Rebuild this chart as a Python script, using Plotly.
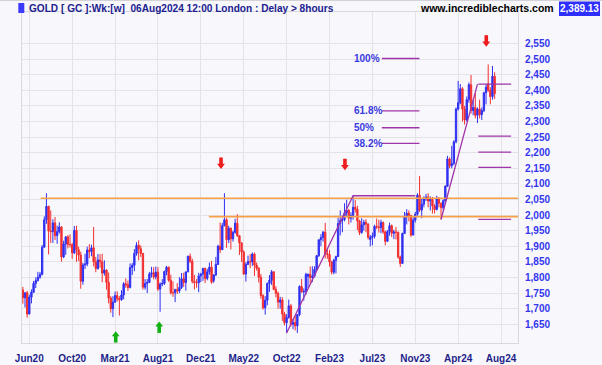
import plotly.graph_objects as go
import pandas as pd

# ---------------- data (weekly OHLC, GC futures) ----------------
start_week = "2020-05-18"

candles_2020 = [
    (1760, 1770, 1716, 1735), (1735, 1752, 1704, 1751), (1751, 1757, 1671, 1683), (1683, 1745, 1682, 1737),
    (1737, 1762, 1717, 1753), (1753, 1789, 1750, 1781), (1781, 1800, 1766, 1790), (1790, 1818, 1787, 1801),
    (1801, 1818, 1796, 1810), (1810, 1904, 1807, 1897), (1897, 1996, 1896, 1985), (1985, 2070, 1972, 2028),
    (2028, 2030, 1874, 1949), (1949, 2015, 1911, 1947), (1947, 1987, 1911, 1975), (1975, 1994, 1920, 1934),
    (1934, 1966, 1908, 1947), (1947, 1977, 1941, 1962), (1962, 1964, 1851, 1866), (1866, 1918, 1862, 1907),
    (1907, 1933, 1873, 1930), (1930, 1936, 1893, 1906), (1906, 1938, 1896, 1905), (1905, 1911, 1860, 1879),
    (1879, 1965, 1875, 1951), (1951, 1966, 1850, 1889), (1889, 1899, 1853, 1872), (1872, 1883, 1764, 1788),
    (1788, 1847, 1777, 1840), (1840, 1876, 1827, 1843), (1843, 1899, 1836, 1888), (1888, 1907, 1862, 1883),
    (1883, 1905, 1868, 1895),
]
candles_2021 = [
    (1895, 1962, 1836, 1850), (1850, 1866, 1817, 1829), (1829, 1875, 1825, 1856), (1856, 1875, 1831, 1850),
    (1850, 1876, 1785, 1814), (1814, 1855, 1806, 1824), (1824, 1826, 1761, 1784), (1784, 1816, 1717, 1734),
    (1734, 1740, 1687, 1700), (1700, 1740, 1673, 1721), (1721, 1755, 1719, 1742), (1742, 1756, 1723, 1732),
    (1732, 1740, 1678, 1729), (1729, 1759, 1725, 1744), (1744, 1785, 1730, 1780), (1780, 1797, 1767, 1777),
    (1777, 1790, 1757, 1768), (1768, 1845, 1765, 1832), (1832, 1846, 1808, 1839), (1839, 1891, 1820, 1877),
    (1877, 1913, 1870, 1903), (1903, 1919, 1855, 1892), (1892, 1903, 1866, 1877), (1877, 1879, 1761, 1769),
    (1769, 1795, 1761, 1781), (1781, 1795, 1750, 1784), (1784, 1818, 1783, 1811), (1811, 1834, 1800, 1815),
    (1815, 1833, 1794, 1802), (1802, 1835, 1794, 1817), (1817, 1833, 1757, 1763), (1763, 1784, 1690, 1779),
    (1779, 1795, 1772, 1781), (1781, 1822, 1776, 1819), (1819, 1837, 1807, 1833), (1833, 1835, 1786, 1791),
    (1791, 1809, 1745, 1751), (1751, 1788, 1738, 1751), (1751, 1764, 1721, 1761), (1761, 1782, 1747, 1757),
    (1757, 1801, 1750, 1768), (1768, 1814, 1763, 1796), (1796, 1815, 1770, 1784), (1784, 1818, 1758, 1818),
    (1818, 1870, 1817, 1868), (1868, 1877, 1846, 1852), (1852, 1860, 1781, 1788), (1788, 1808, 1762, 1784),
    (1784, 1795, 1767, 1783), (1783, 1815, 1753, 1805), (1805, 1815, 1785, 1811), (1811, 1831, 1789, 1829),
]
candles_2022 = [
    (1829, 1832, 1782, 1797), (1797, 1828, 1791, 1818), (1818, 1848, 1809, 1833), (1833, 1853, 1780, 1785),
    (1790, 1810, 1783, 1808), (1808, 1866, 1805, 1842), (1842, 1905, 1840, 1900), (1900, 1976, 1878, 1889),
    (1889, 1975, 1888, 1966), (1966, 2070, 1964, 1985), (1985, 1991, 1895, 1921), (1921, 1966, 1910, 1958),
    (1958, 1960, 1890, 1924), (1924, 1950, 1915, 1945), (1945, 1988, 1940, 1974), (1974, 2003, 1930, 1934),
    (1934, 1935, 1872, 1911), (1911, 1913, 1850, 1882), (1882, 1887, 1808, 1811), (1811, 1849, 1787, 1842),
    (1842, 1870, 1840, 1851), (1851, 1875, 1830, 1850), (1850, 1880, 1837, 1875), (1875, 1880, 1805, 1840),
    (1840, 1848, 1822, 1830), (1830, 1833, 1784, 1801), (1801, 1811, 1732, 1742), (1742, 1746, 1697, 1703),
    (1703, 1740, 1681, 1727), (1727, 1784, 1711, 1781), (1781, 1808, 1754, 1791), (1791, 1824, 1776, 1818),
    (1818, 1820, 1759, 1762), (1762, 1772, 1736, 1749), (1749, 1755, 1700, 1721), (1721, 1738, 1700, 1728),
    (1728, 1737, 1661, 1683), (1683, 1690, 1646, 1655), (1655, 1682, 1622, 1672), (1672, 1729, 1668, 1709),
    (1709, 1715, 1643, 1650), (1650, 1668, 1634, 1656), (1656, 1677, 1630, 1645), (1645, 1682, 1622, 1681),
    (1681, 1775, 1676, 1771), (1771, 1795, 1751, 1754), (1754, 1765, 1726, 1755), (1755, 1815, 1745, 1810),
    (1804, 1813, 1766, 1810), (1810, 1835, 1780, 1800), (1800, 1836, 1785, 1804), (1804, 1836, 1800, 1826),
]
candles_2023 = [
    (1826, 1871, 1822, 1870), (1870, 1922, 1866, 1921), (1921, 1939, 1900, 1928), (1928, 1949, 1915, 1945),
    (1945, 1975, 1861, 1877), (1877, 1890, 1860, 1874), (1874, 1888, 1835, 1850), (1850, 1853, 1810, 1817),
    (1817, 1860, 1810, 1855), (1855, 1870, 1813, 1867), (1867, 1992, 1866, 1973), (1973, 2015, 1935, 1983),
    (1983, 1999, 1945, 1986), (1986, 2038, 1980, 2007), (2007, 2049, 1994, 2015), (2015, 2020, 1970, 1990),
    (1990, 2009, 1976, 1999), (1999, 2062, 1985, 2025), (2025, 2048, 2008, 2019), (2019, 2030, 1952, 1981),
    (1981, 1985, 1936, 1944), (1944, 1990, 1940, 1969), (1969, 1985, 1950, 1977), (1977, 1987, 1945, 1971),
    (1971, 1974, 1922, 1929), (1922, 1936, 1900, 1929), (1929, 1944, 1903, 1932), (1932, 1969, 1925, 1964),
    (1964, 1989, 1955, 1962), (1962, 1985, 1944, 1960), (1960, 1985, 1942, 1976), (1976, 1980, 1940, 1946),
    (1946, 1950, 1903, 1916), (1916, 1952, 1914, 1947), (1947, 1976, 1934, 1966), (1966, 1970, 1930, 1942),
    (1942, 1953, 1923, 1946), (1946, 1962, 1922, 1945), (1945, 1947, 1860, 1866), (1866, 1870, 1834, 1845),
    (1845, 1944, 1845, 1941), (1941, 2010, 1940, 1994), (1994, 2019, 1970, 2006), (2006, 2015, 1980, 1999),
    (1999, 2000, 1930, 1936), (1936, 1993, 1935, 1984), (1984, 2010, 1976, 2003), (2003, 2070, 1998, 2064),
    (2064, 2125, 2010, 2016), (2016, 2052, 1990, 2035), (2035, 2060, 2025, 2052), (2052, 2068, 2045, 2058),
]
candles_2024 = [
    (2058, 2070, 2025, 2045), (2045, 2060, 2015, 2050), (2050, 2058, 2005, 2029), (2029, 2035, 2005, 2018),
    (2018, 2062, 2015, 2053), (2053, 2058, 2025, 2038), (2038, 2040, 1986, 2024), (2024, 2050, 2016, 2046),
    (2046, 2096, 2035, 2092), (2092, 2190, 2090, 2180), (2180, 2185, 2150, 2158), (2158, 2222, 2150, 2165),
    (2165, 2240, 2160, 2235), (2235, 2345, 2230, 2340), (2340, 2430, 2335, 2360), (2360, 2420, 2355, 2405),
    (2405, 2410, 2300, 2340), (2340, 2350, 2290, 2305), (2305, 2380, 2300, 2370), (2370, 2425, 2360, 2418),
    (2418, 2449, 2325, 2335), (2335, 2370, 2320, 2345), (2345, 2390, 2310, 2320), (2320, 2345, 2295, 2340),
    (2340, 2370, 2310, 2322), (2322, 2345, 2305, 2335), (2335, 2395, 2330, 2392), (2392, 2420, 2355, 2410),
    (2421, 2483, 2395, 2400), (2400, 2410, 2355, 2380), (2380, 2478, 2370, 2445), (2445, 2458, 2372, 2389),
]

last_price = "2,389.13"

# x-axis labels
tick_dates = ["2020-06-08", "2020-10-26", "2021-03-15", "2021-08-02", "2021-12-20", "2022-05-09",
              "2022-09-26", "2023-02-13", "2023-07-03", "2023-11-20", "2024-04-08", "2024-08-26"]
tick_labels = ["Jun20", "Oct20", "Mar21", "Aug21", "Dec21", "May22",
               "Oct22", "Feb23", "Jul23", "Nov23", "Apr24", "Aug24"]
price_ticks = list(range(1650, 2551, 50))

# support / resistance lines (orange)
orange_lines = [("2020-07-15", 2054), ("2022-01-15 14:00", 1995)]

# trend lines (purple)
trend1 = (["2022-09-26", "2023-05-01", "2023-11-20"], [1622, 2062, 2062])
trend2 = (["2024-02-12", "2024-06-10"], [1986, 2420])

# Fibonacci levels
fib_left_x = ("2023-08-02 19:00", "2023-12-03 14:00")
fib_left_levels = [2502, 2334, 2280, 2230]
fib_left_labels = ["100%", "61.8%", "50%", "38.2%"]
fib_label_x = "2023-04-27"
fib_right_x = ("2024-06-12 19:00", "2024-09-27 22:00")
fib_right_levels = [2420, 2253, 2202, 2153, 1986]

# signal arrows
down_arrow_x = ["2022-02-23 19:00", "2023-04-04 10:00", "2024-07-08 17:00"]
down_arrow_y = [2164, 2160, 2556]
up_arrow_x = ["2021-03-17 02:00", "2021-08-06 05:00"]
up_arrow_y = [1612, 1643]

# ---------------- build ----------------
rows = candles_2020 + candles_2021 + candles_2022 + candles_2023 + candles_2024
dates = pd.date_range(start_week, periods=len(rows), freq="7D")
o = [r[0] for r in rows]
h = [max(r) for r in rows]
l = [min(r) for r in rows]
c = [r[3] for r in rows]

W, H = 602, 365
ML, MR, MT, MB = 22, 84, 12, 22
PW, PH = W - ML - MR, H - MT - MB
Y0, Y1 = 1590, 2651
X0 = pd.Timestamp(start_week) - pd.Timedelta(days=2.8)
X1 = pd.Timestamp(start_week) + pd.Timedelta(days=230.9 * 7)
ppu = PH / (Y1 - Y0)

BG = "#f8f8fc"
GRID = "#e3e3e8"
UP = "#2f2ff2"
DN = "#f22f2f"
PURPLE = "#a034a8"
ORANGE = "#f8a048"
FONT = "Liberation Sans, Arial, sans-serif"

fig = go.Figure()

fig.add_trace(go.Candlestick(
    x=dates, open=o, high=h, low=l, close=c,
    increasing=dict(line=dict(color=UP, width=1), fillcolor=UP),
    decreasing=dict(line=dict(color=DN, width=1), fillcolor=DN),
    showlegend=False, hoverinfo="skip",
))

for xs, lv in orange_lines:
    fig.add_trace(go.Scatter(x=[xs, X1], y=[lv, lv], mode="lines",
                             line=dict(color=ORANGE, width=1.6), showlegend=False, hoverinfo="skip"))

for tx, ty in (trend1, trend2):
    fig.add_trace(go.Scatter(x=tx, y=ty, mode="lines", line=dict(color=PURPLE, width=1.3),
                             showlegend=False, hoverinfo="skip"))

for (xa, xb), levels in ((fib_left_x, fib_left_levels), (fib_right_x, fib_right_levels)):
    for lv in levels:
        fig.add_trace(go.Scatter(x=[xa, xb], y=[lv, lv], mode="lines", line=dict(color=PURPLE, width=1.3),
                                 showlegend=False, hoverinfo="skip"))

# arrows: shaft + head markers
def arrow_traces(xs, ys, color, down):
    sgn = 1 if down else -1
    head_y = [y - sgn * 1.6 / ppu for y in ys]
    shaft_y = [y + sgn * 2.6 / ppu for y in ys]
    fig.add_trace(go.Scatter(x=xs, y=shaft_y, mode="markers",
                             marker=dict(symbol="line-ns", size=5.5, line=dict(width=3.6, color=color)),
                             showlegend=False, hoverinfo="skip"))
    fig.add_trace(go.Scatter(x=xs, y=head_y, mode="markers",
                             marker=dict(symbol="triangle-down" if down else "triangle-up", size=6.8,
                                         color=color, line=dict(width=0)),
                             showlegend=False, hoverinfo="skip"))

arrow_traces(down_arrow_x, down_arrow_y, "#ee1c1c", True)
arrow_traces(up_arrow_x, up_arrow_y, "#12b012", False)

# fib labels
for lv, lab in zip(fib_left_levels, fib_left_labels):
    fig.add_annotation(x=fib_label_x, y=lv, text=lab, showarrow=False, xanchor="left", yanchor="middle",
                       font=dict(family=FONT, size=10, color="#3a3ae0", weight="bold"))

def px_x(p):
    return (p - ML) / PW

def px_y(p):
    return (H - MB - p) / PH

# header
fig.add_shape(type="rect", xref="paper", yref="paper", x0=px_x(18.3), x1=px_x(24.3), y0=px_y(13), y1=px_y(3),
              fillcolor="#3b3bff", line=dict(width=0), layer="above")
fig.add_annotation(xref="paper", yref="paper", x=px_x(27), y=px_y(8.3), xanchor="left", yanchor="middle",
                   text="GOLD [ GC ]:Wk:[w]&nbsp;&nbsp;06Aug2024 12:00 London : Delay &gt; 8hours",
                   showarrow=False, font=dict(family=FONT, size=10.1, color="#20208f", weight="bold"))
fig.add_annotation(xref="paper", yref="paper", x=px_x(418), y=px_y(8.3), xanchor="left", yanchor="middle",
                   text="www.incrediblecharts.com", showarrow=False,
                   font=dict(family=FONT, size=10.5, color="#000000", weight="bold"))
fig.add_shape(type="rect", xref="paper", yref="paper", x0=px_x(559), x1=px_x(600), y0=px_y(16), y1=px_y(1.5),
              fillcolor="#2e2eff", line=dict(width=0), layer="above")
fig.add_annotation(xref="paper", yref="paper", x=px_x(579.5), y=px_y(8.6), xanchor="center", yanchor="middle",
                   text=last_price, showarrow=False,
                   font=dict(family=FONT, size=10, color="#ffffff", weight="bold"))
fig.add_shape(type="line", xref="paper", yref="paper", x0=px_x(0), x1=px_x(602), y0=px_y(0.5), y1=px_y(0.5),
              line=dict(color="#d2d2d8", width=1))

fig.update_layout(
    width=W, height=H,
    margin=dict(l=ML, r=MR, t=MT, b=MB, pad=0, autoexpand=False),
    paper_bgcolor=BG, plot_bgcolor=BG,
    showlegend=False,
    boxgap=0.12,
    font=dict(family=FONT),
    xaxis=dict(
        type="date", range=[X0, X1], rangeslider=dict(visible=False),
        tickvals=tick_dates, ticktext=tick_labels, ticks="",
        ticklabelstandoff=6, automargin=False,
        showgrid=True, gridcolor=GRID, gridwidth=1,
        showline=True, linecolor="#d8d8de", linewidth=1, mirror=True,
        tickfont=dict(family=FONT, size=10, color="#1f1f8a", weight="bold"),
        zeroline=False, fixedrange=True,
    ),
    yaxis=dict(
        side="right", range=[Y0, Y1], tickvals=price_ticks,
        ticktext=[f"{v:,}" for v in price_ticks], ticks="",
        ticklabelstandoff=4, automargin=False,
        showgrid=True, gridcolor=GRID, gridwidth=1,
        showline=True, linecolor="#d8d8de", linewidth=1, mirror=True,
        tickfont=dict(family=FONT, size=10, color="#3535ee", weight="bold"),
        zeroline=False, fixedrange=True,
    ),
)

fig.write_html(
    "out.html",
    config={"displayModeBar": False, "staticPlot": True},
    post_script="document.body.style.margin='0';document.body.style.padding='0';"
                "document.body.style.overflow='hidden';document.body.style.background='" + BG + "';",
)
